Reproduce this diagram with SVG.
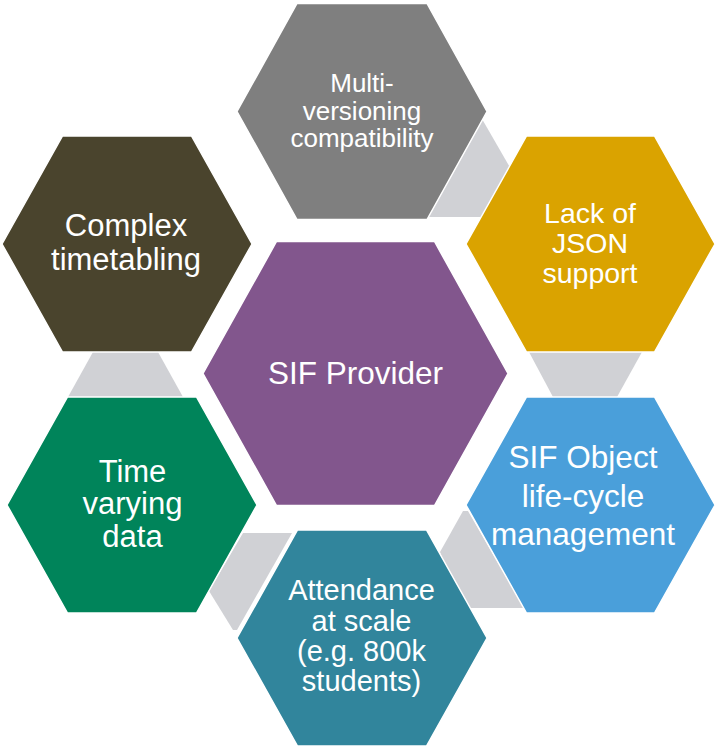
<svg xmlns="http://www.w3.org/2000/svg" width="715" height="746" viewBox="0 0 715 746">
<style>
.hex{stroke:#FFFFFF;stroke-width:1.5}
.conn{fill:#D0D1D5}
text{font-family:"Liberation Sans",Arial,sans-serif;fill:#FFFFFF;text-anchor:middle}
</style>
<rect width="715" height="746" fill="#FFFFFF"/>
<g id="connectors">
<polygon class="conn" points="478,112 512,171 486,217 425,217"/>
<polygon class="conn" points="529,352 642,352 617,397 553,397"/>
<polygon class="conn" points="463,511 468,511 524,608 460,608 440,552"/>
<polygon class="conn" points="243,533 292,533 237,630 233,630 209,591"/>
<polygon class="conn" points="93,352 158,352 183,397 68,397"/>
</g>
<g id="multi-versioning">
<polygon class="hex" fill="#7F7F7F" points="237,111.5 297,3.5 427,3.5 487,111.5 427,219.5 297,219.5"/>
<text font-size="26"><tspan x="362" y="91.5">Multi-</tspan><tspan x="362" y="119.5">versioning</tspan><tspan x="362" y="147">compatibility</tspan></text>
</g>
<g id="lack-of-json">
<polygon class="hex" fill="#DAA300" points="466,244 526.5,136 654.5,136 715,244 654.5,352 526.5,352"/>
<text font-size="28.5"><tspan x="590" y="223">Lack of</tspan><tspan x="590" y="253">JSON</tspan><tspan x="590" y="283">support</tspan></text>
</g>
<g id="sif-object">
<polygon class="hex" fill="#4A9FDA" points="466,505 526.5,397 654.5,397 715,505 654.5,613 526.5,613"/>
<text font-size="31.5"><tspan x="583" y="468">SIF Object</tspan><tspan x="583" y="507">life-cycle</tspan><tspan x="583" y="545">management</tspan></text>
</g>
<g id="attendance">
<polygon class="hex" fill="#31859C" points="237,638 297.5,530 426.5,530 487,638 426.5,746 297.5,746"/>
<text font-size="29"><tspan x="361.5" y="600">Attendance</tspan><tspan x="361.5" y="630.5">at scale</tspan><tspan x="361.5" y="661">(e.g. 800k</tspan><tspan x="361.5" y="691">students)</tspan></text>
</g>
<g id="time-varying">
<polygon class="hex" fill="#00845A" points="7,505 67.5,397 196.5,397 257,505 196.5,613 67.5,613"/>
<text font-size="31"><tspan x="132.5" y="482">Time</tspan><tspan x="132.5" y="514">varying</tspan><tspan x="132.5" y="547">data</tspan></text>
</g>
<g id="complex-timetabling">
<polygon class="hex" fill="#4A442D" points="2,244 62.5,136 191.5,136 252,244 191.5,352 62.5,352"/>
<text font-size="31"><tspan x="126" y="236">Complex</tspan><tspan x="126" y="270">timetabling</tspan></text>
</g>
<g id="sif-provider">
<polygon class="hex" fill="#82568D" points="203,373.5 276.5,241.5 434.5,241.5 508,373.5 434.5,505.5 276.5,505.5"/>
<text font-size="31.5" x="355.5" y="384">SIF Provider</text>
</g>
</svg>
